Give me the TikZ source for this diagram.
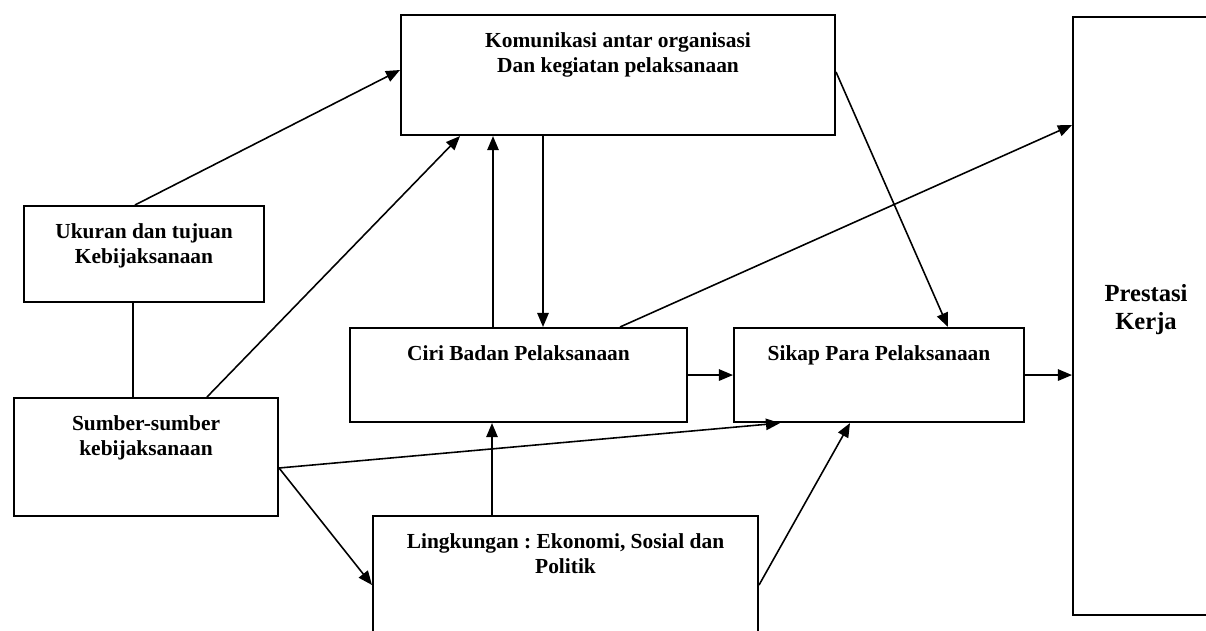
\documentclass[tikz,border=0pt]{standalone}
\usepackage{fontspec}
\setmainfont{Liberation Serif}
\usepackage{tikz}
\usetikzlibrary{arrows.meta, calc}
\frenchspacing

\newcommand{\isikotak}[3]{\parbox[t][#2][t]{#1}{\centering\vspace*{0.36cm}#3}}

\begin{document}
\begin{tikzpicture}[x=0.02cm, y=-0.02cm,
    kotak/.style={draw, line width=1.2pt, inner sep=0pt, anchor=north west,
                  font=\fontsize{12.2}{14.2}\selectfont\bfseries},
    panah/.style={-{Triangle[length=8pt, width=6.5pt]}, line width=0.9pt},
    garis/.style={line width=0.9pt}]
    \useasboundingbox (0,0) rectangle (1206,631);
    % kotak-kotak
    \node[kotak] (kom) at (400,14) {\isikotak{8.68cm}{2.4cm}{Komunikasi antar organisasi\\ Dan kegiatan pelaksanaan}};
    \node[kotak] (ukuran) at (23,205) {\isikotak{4.8cm}{1.92cm}{Ukuran dan tujuan\\ Kebijaksanaan}};
    \node[kotak] (sumber) at (13,397) {\isikotak{5.28cm}{2.36cm}{Sumber-sumber\\ kebijaksanaan}};
    \node[kotak] (ciri) at (349,327) {\isikotak{6.74cm}{1.88cm}{Ciri Badan Pelaksanaan}};
    \node[kotak] (sikap) at (733,327) {\isikotak{5.8cm}{1.88cm}{Sikap Para Pelaksanaan}};
    \node[kotak] (ling) at (372,515) {\isikotak{7.7cm}{2.6cm}{Lingkungan : Ekonomi, Sosial dan\\ Politik}};
    \node[kotak, font=\fontsize{14}{16}\selectfont\bfseries] (prestasi) at (1072,16)
        {\parbox[t][11.96cm][c]{2.92cm}{\centering Prestasi\\ Kerja\\[0.25cm]}};
    % panah
    \draw[panah] ($(ukuran.north west)+(112,0)$) -- ($(kom.north west)+(0,56)$);
    \draw[garis] ($(ukuran.south west)+(110,0)$) coordinate (u1) -- (u1 |- sumber.north);
    \draw[panah] ($(sumber.north west)+(194,0)$) -- ($(kom.south west)+(60,0)$);
    \draw[panah] ($(ciri.north west)+(144,0)$) coordinate (c1) -- (c1 |- kom.south);
    \draw[panah] ($(kom.south west)+(143,0)$) coordinate (k1) -- (k1 |- ciri.north);
    \draw[panah] ($(kom.north east)+(0,58)$) -- ($(sikap.north west)+(215,0)$);
    \draw[panah] ($(ciri.north west)+(271,0)$) -- ($(prestasi.north west)+(0,109)$);
    \draw[panah] (ciri.east) -- (sikap.west);
    \draw[panah] (sikap.east) -- (sikap.east -| prestasi.west);
    \draw[panah] ($(sumber.north east)+(0,71)$) coordinate (s1) -- ($(sikap.south west)+(47,0)$);
    \draw[panah] (s1) -- ($(ling.north west)+(0,70)$);
    \draw[panah] ($(ling.north west)+(120,0)$) coordinate (l1) -- (l1 |- ciri.south);
    \draw[panah] ($(ling.north east)+(0,70)$) -- ($(sikap.south west)+(117,0)$);
\end{tikzpicture}
\end{document}
